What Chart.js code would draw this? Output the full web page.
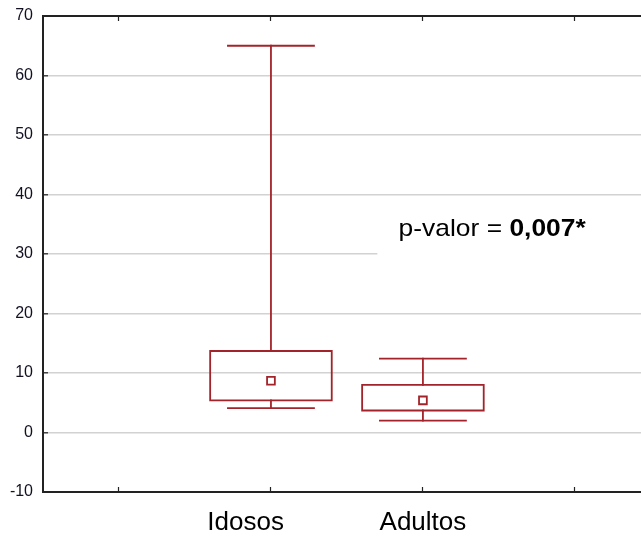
<!DOCTYPE html>
<html>
<head>
<meta charset="utf-8">
<script src="https://cdn.jsdelivr.net/npm/chart.js@4/dist/chart.umd.min.js"></script>
<style>
  html, body { margin: 0; padding: 0; background: #fff; overflow: hidden; }
  #wrap { width: 641px; height: 536px; position: relative; }
</style>
</head>
<body>
<div id="wrap"><canvas id="boxChart"></canvas></div>
<script>
// Box plot values
const categories = ['Idosos', 'Adultos'];
const xPos = [2, 3];
const minVals = [4.1, 2.0];
const q1Vals = [5.4, 3.7];
const q3Vals = [13.7, 8.0];
const maxVals = [65.0, 12.4];
const meanVals = [8.7, 5.4];
const yTicks = [-10, 0, 10, 20, 30, 40, 50, 60, 70];
const pValueLabel = 'p-valor = ';
const pValueBold = '0,007*';

const RED = '#a3232a';
const FONT = "'Liberation Sans', Arial, sans-serif";
const BOX_HALF = 0.4;
const CAP_HALF = 0.283;

function seg(points) {
    return {
        data: points,
        showLine: true,
        borderColor: RED,
        borderWidth: 1.8,
        borderJoinStyle: 'miter',
        borderCapStyle: 'square',
        pointRadius: 0,
        fill: false
    };
}

// build one set of line segments per box
const datasets = [];
categories.forEach((c, i) => {
    const x = xPos[i];
    datasets.push(seg([
        { x: x - BOX_HALF, y: q1Vals[i] }, { x: x + BOX_HALF, y: q1Vals[i] },
        { x: x + BOX_HALF, y: q3Vals[i] }, { x: x - BOX_HALF, y: q3Vals[i] },
        { x: x - BOX_HALF, y: q1Vals[i] }
    ]));
    datasets.push(seg([{ x: x, y: q3Vals[i] }, { x: x, y: maxVals[i] }]));
    datasets.push(seg([{ x: x - CAP_HALF, y: maxVals[i] }, { x: x + CAP_HALF, y: maxVals[i] }]));
    datasets.push(seg([{ x: x, y: q1Vals[i] }, { x: x, y: minVals[i] }]));
    datasets.push(seg([{ x: x - CAP_HALF, y: minVals[i] }, { x: x + CAP_HALF, y: minVals[i] }]));
    datasets.push({
        data: [{ x: x, y: meanVals[i] }],
        showLine: false,
        pointStyle: 'rect',
        pointRadius: 5.5,
        pointBorderColor: RED,
        pointBorderWidth: 1.8,
        pointBackgroundColor: '#fff'
    });
});

// p-value note with white backing over the grid
const pNote = {
    id: 'pNote',
    beforeDatasetsDraw(chart) {
        const { ctx, chartArea, scales } = chart;
        const xs = scales.x, ys = scales.y;
        ctx.save();
        ctx.fillStyle = '#fff';
        const rx = xs.getPixelForValue(2.70);
        const ry = ys.getPixelForValue(38.5);
        ctx.fillRect(rx, ry, chartArea.right - rx, ys.getPixelForValue(28.5) - ry);
        ctx.fillStyle = '#000';
        ctx.textBaseline = 'alphabetic';
        ctx.translate(xs.getPixelForValue(2.84), ys.getPixelForValue(33));
        ctx.scale(1.1, 1);
        ctx.font = '24px ' + FONT;
        ctx.fillText(pValueLabel, 0, 0);
        const w = ctx.measureText(pValueLabel).width;
        ctx.font = 'bold 24px ' + FONT;
        ctx.fillText(pValueBold, w, 0);
        ctx.restore();
    }
};

const noPad = (s) => { s.paddingTop = 0; s.paddingBottom = 0; s.paddingLeft = 0; s.paddingRight = 0; };

const ctx = document.getElementById('boxChart').getContext('2d');
new Chart(ctx, {
    type: 'scatter',
    data: { datasets: datasets },
    plugins: [pNote],
    options: {
        responsive: true,
        maintainAspectRatio: false,
        animation: false,
        layout: { padding: 0, autoPadding: false },
        plugins: { legend: { display: false }, tooltip: { enabled: false } },
        scales: {
            x: {
                type: 'linear',
                position: 'bottom',
                min: 0.5,
                max: 4.435,
                afterBuildTicks: (s) => { s.ticks = [1, 2, 3, 4].map(v => ({ value: v })); },
                ticks: {
                    autoSkip: false,
                    maxRotation: 0,
                    padding: 20,
                    color: '#000',
                    font: { family: FONT, size: 26 },
                    callback: (v) => {
                        const i = xPos.indexOf(v);
                        if (i < 0) return '';
                        // first label sits left of its box in the source figure
                        return i === 0 ? categories[i] + '       ' : categories[i];
                    }
                },
                grid: { drawOnChartArea: false, tickLength: -5, tickColor: '#222', tickWidth: 1.2 },
                border: { display: true, color: '#222', width: 2 },
                afterFit: (s) => { s.height = 44; noPad(s); }
            },
            xTop: {
                type: 'linear',
                axis: 'x',
                position: 'top',
                min: 0.5,
                max: 4.435,
                afterBuildTicks: (s) => { s.ticks = [1, 2, 3, 4].map(v => ({ value: v })); },
                ticks: { callback: () => '' },
                grid: { drawOnChartArea: false, tickLength: -5, tickColor: '#222', tickWidth: 1.2 },
                border: { display: true, color: '#222', width: 2 },
                afterFit: (s) => { s.height = 16; noPad(s); }
            },
            y: {
                type: 'linear',
                min: -10,
                max: 70,
                afterBuildTicks: (s) => { s.ticks = yTicks.map(v => ({ value: v })); },
                ticks: {
                    padding: 15,
                    color: '#111122',
                    font: { family: FONT, size: 16 }
                },
                grid: { color: '#d2d2d2', lineWidth: 1.6, tickLength: -5, tickColor: '#222', tickWidth: 1.2 },
                border: { display: true, color: '#222', width: 2 },
                afterFit: (s) => { s.width = 43; noPad(s); }
            }
        }
    }
});
</script>
</body>
</html>
